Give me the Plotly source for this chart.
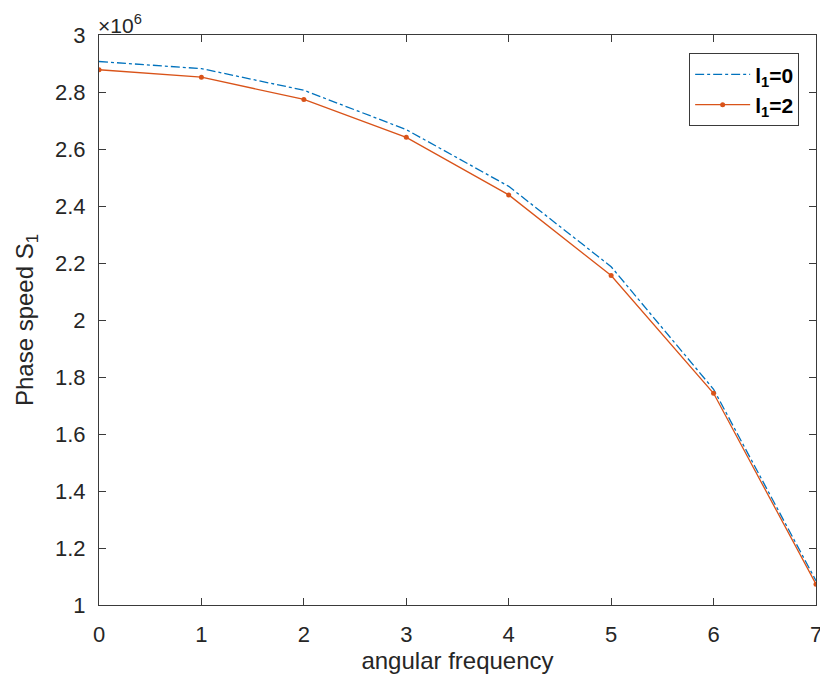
import plotly.graph_objects as go

freq = [0, 1, 2, 3, 4, 5, 6, 7]
speed_l0 = [2.907e6, 2.882e6, 2.806e6, 2.668e6, 2.469e6, 2.187e6, 1.757e6, 1.085e6]
speed_l2 = [2.878e6, 2.852e6, 2.774e6, 2.641e6, 2.439e6, 2.156e6, 1.743e6, 1.073e6]
y_ticks = [1.0, 1.2, 1.4, 1.6, 1.8, 2.0, 2.2, 2.4, 2.6, 2.8, 3.0]
x_ticks = [0, 1, 2, 3, 4, 5, 6, 7]

blue = "#0072BD"
orange = "#D95319"
axcol = "#3a3a3a"
txt = "#262626"

fig = go.Figure()
fig.add_trace(go.Scatter(
    x=freq, y=speed_l0, mode="lines", name="<b>l<sub>1</sub>=0</b>",
    line=dict(color=blue, width=1.3, dash="dashdot"),
))
fig.add_trace(go.Scatter(
    x=freq, y=speed_l2, mode="lines+markers", name="<b>l<sub>1</sub>=2</b>",
    line=dict(color=orange, width=1.3),
    marker=dict(color=orange, size=5, symbol="circle"),
))

# page body adds an 8px offset, so the figure is 8px smaller on the left/top
fig.update_layout(
    width=820, height=676,
    margin=dict(l=91, r=6, t=27, b=79),
    plot_bgcolor="white", paper_bgcolor="white",
    font=dict(family="Liberation Sans, Arial, sans-serif", size=22, color=txt),
    showlegend=True,
    legend=dict(
        x=0.9765, y=0.968, xanchor="right", yanchor="top",
        bordercolor=axcol, borderwidth=1, bgcolor="white",
        font=dict(size=21, color="black"),
        itemwidth=55,
    ),
    xaxis=dict(
        range=[0, 7], tickvals=x_ticks, ticktext=[str(v) for v in x_ticks],
        showgrid=False, zeroline=False, showline=True, linecolor=axcol, linewidth=1,
        mirror="ticks", ticks="inside", ticklen=7, tickcolor=axcol,
        ticklabelstandoff=10, ticklabeloverflow="allow",
        tickfont=dict(size=22, color=txt),
        title=dict(text="angular frequency", font=dict(size=24, color=txt), standoff=4),
    ),
    yaxis=dict(
        range=[1e6, 3e6], tickvals=[v * 1e6 for v in y_ticks],
        ticktext=[("%g" % v) for v in y_ticks],
        showgrid=False, zeroline=False, showline=True, linecolor=axcol, linewidth=1,
        mirror="ticks", ticks="inside", ticklen=7, tickcolor=axcol,
        ticklabelstandoff=8, ticklabeloverflow="allow",
        tickfont=dict(size=22, color=txt),
        title=dict(text="Phase speed S<sub>1</sub>", font=dict(size=24, color=txt), standoff=14),
    ),
)

fig.add_annotation(
    x=0, y=1, xref="paper", yref="paper", xanchor="left", yanchor="bottom",
    text="\u00d710<sup>6</sup>", showarrow=False, font=dict(size=21, color=txt),
    xshift=-2, yshift=-3, borderpad=0,
)

fig.write_html("out.html")
